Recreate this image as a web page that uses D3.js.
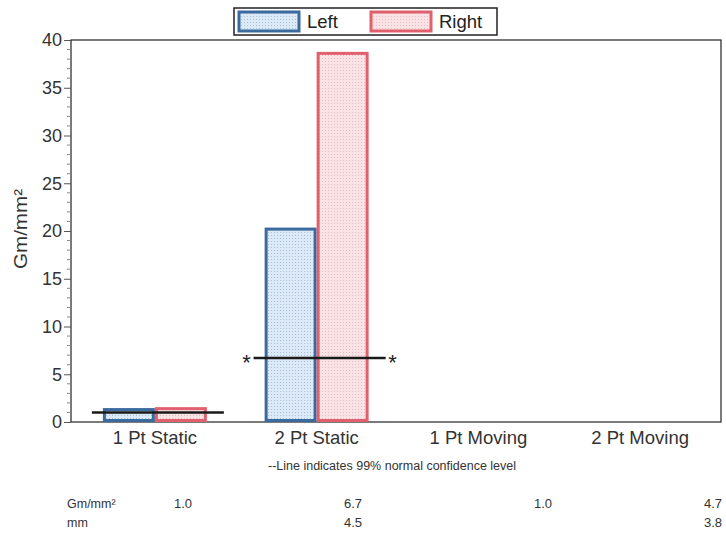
<!DOCTYPE html>
<html><head><meta charset="utf-8">
<script src="https://cdn.jsdelivr.net/npm/d3@7"></script>
<style>body{margin:0;background:#fff}svg{font-family:"Liberation Sans",Arial,sans-serif}</style>
</head><body>
<script>
const categories = ["1 Pt Static", "2 Pt Static", "1 Pt Moving", "2 Pt Moving"];
const series = ["Left", "Right"];
const leftValues = [1.3, 20.2, null, null];
const rightValues = [1.4, 38.6, null, null];
const thresholds = [1.0, 6.7, 1.0, 4.7];
const showThreshold = [true, true, false, false];
const thresholdStars = [false, true, false, false];
const yTicks = [0, 5, 10, 15, 20, 25, 30, 35, 40];
const tableGm = ["1.0", "6.7", "1.0", "4.7"];
const tableMm = ["", "4.5", "", "3.8"];

const W = 726, H = 533;
const m = {l: 71, r: 5, t: 40, b: 111};
const svg = d3.select("body").append("svg").attr("width", W).attr("height", H);
const defs = svg.append("defs");
function pattern(id, bg, dot) {
  const p = defs.append("pattern").attr("id", id).attr("width", 3).attr("height", 3).attr("patternUnits", "userSpaceOnUse");
  p.append("rect").attr("width", 3).attr("height", 3).attr("fill", bg);
  p.append("rect").attr("x", 1).attr("y", 1).attr("width", 1).attr("height", 1).attr("fill", dot);
}
pattern("pL", "#dce9f6", "#a9bfd6");
pattern("pR", "#f9e3e5", "#e9bcc2");
const fills = {Left: "url(#pL)", Right: "url(#pR)"};
const strokes = {Left: "#3a6a9e", Right: "#e0606e"};

const x = d3.scaleBand().domain(categories).range([m.l + 3, W - m.r]);
const y = d3.scaleLinear().domain([0, 40]).range([H - m.b, m.t]);
const pairW = 104;
const xSub = d3.scaleBand().domain(series).range([(x.bandwidth() - pairW) / 2, (x.bandwidth() + pairW) / 2]);

// frame
svg.append("rect").attr("x", m.l).attr("y", m.t).attr("width", W - m.r - m.l).attr("height", H - m.b - m.t)
  .attr("fill", "none").attr("stroke", "#222").attr("stroke-width", 1.2);

// bars
const data = [];
categories.forEach((c, i) => {
  if (leftValues[i] != null) data.push({c, s: "Left", v: leftValues[i]});
  if (rightValues[i] != null) data.push({c, s: "Right", v: rightValues[i]});
});
svg.append("g").selectAll("rect").data(data).join("rect")
  .attr("x", d => x(d.c) + xSub(d.s) + 1.5)
  .attr("y", d => y(d.v))
  .attr("width", xSub.bandwidth() - 3)
  .attr("height", d => y(0) - y(d.v) - 1.5)
  .attr("fill", d => fills[d.s]).attr("stroke", d => strokes[d.s]).attr("stroke-width", 3);

// thresholds
categories.forEach((c, i) => {
  if (!showThreshold[i]) return;
  const cx = x(c) + x.bandwidth() / 2 + 3;
  const half = 66;
  svg.append("line").attr("x1", cx - half).attr("x2", cx + half)
    .attr("y1", y(thresholds[i])).attr("y2", y(thresholds[i]))
    .attr("stroke", "#1a1a1a").attr("stroke-width", 2.5);
  if (thresholdStars[i]) {
    [-1, 1].forEach(sgn => {
      svg.append("text").attr("x", cx + sgn * (half + 7)).attr("y", y(thresholds[i]) + 12)
        .attr("text-anchor", "middle").attr("font-size", 22).attr("fill", "#222").text("*");
    });
  }
});

// y axis
const yAxis = d3.axisLeft(y).tickValues(yTicks).tickSize(7).tickPadding(2);
const ga = svg.append("g").attr("transform", `translate(${m.l},0)`).call(yAxis);
ga.select(".domain").remove();
ga.selectAll("text").attr("font-size", 18).attr("fill", "#333").attr("font-family", "Liberation Sans, Arial, sans-serif");
ga.selectAll("line").attr("stroke", "#555");
const minor = d3.range(0, 41).filter(v => v % 5 !== 0);
svg.append("g").selectAll("line").data(minor).join("line")
  .attr("x1", m.l - 4).attr("x2", m.l).attr("y1", d => y(d)).attr("y2", d => y(d))
  .attr("stroke", "#888").attr("stroke-width", 1);

svg.append("text").attr("transform", `translate(27,229) rotate(-90)`)
  .attr("text-anchor", "middle").attr("font-size", 19).attr("fill", "#333")
  .attr("textLength", 80).attr("lengthAdjust", "spacingAndGlyphs").text("Gm/mm²");

// x axis labels
svg.append("g").selectAll("text").data(categories).join("text")
  .attr("x", d => x(d) + x.bandwidth() / 2).attr("y", H - m.b + 22)
  .attr("text-anchor", "middle").attr("font-size", 18.5).attr("fill", "#333").text(d => d);

svg.append("text").attr("x", 392).attr("y", 470).attr("text-anchor", "middle")
  .attr("font-size", 12.5).attr("fill", "#333").text("--Line indicates 99% normal confidence level");

// table
const colX = [192, 362, 552, 722];
svg.append("text").attr("x", 67).attr("y", 508).attr("font-size", 12.5).attr("fill", "#333").text("Gm/mm²");
svg.append("text").attr("x", 67).attr("y", 527).attr("font-size", 12.5).attr("fill", "#333").text("mm");
svg.append("g").selectAll("text").data(tableGm).join("text")
  .attr("x", (d, i) => colX[i]).attr("y", 508).attr("text-anchor", "end")
  .attr("font-size", 13).attr("fill", "#333").text(d => d);
svg.append("g").selectAll("text").data(tableMm).join("text")
  .attr("x", (d, i) => colX[i]).attr("y", 527).attr("text-anchor", "end")
  .attr("font-size", 13).attr("fill", "#333").text(d => d);

// legend
const lg = svg.append("g");
lg.append("rect").attr("x", 234).attr("y", 8).attr("width", 263).attr("height", 27)
  .attr("fill", "#fff").attr("stroke", "#222").attr("stroke-width", 1.5);
const legX = [239, 371];
series.forEach((s, i) => {
  lg.append("rect").attr("x", legX[i]).attr("y", 12).attr("width", 60).attr("height", 19)
    .attr("fill", fills[s]).attr("stroke", strokes[s]).attr("stroke-width", 3);
  lg.append("text").attr("x", legX[i] + 68).attr("y", 28).attr("font-size", 18.5).attr("fill", "#222").text(s);
});
</script>
</body></html>
